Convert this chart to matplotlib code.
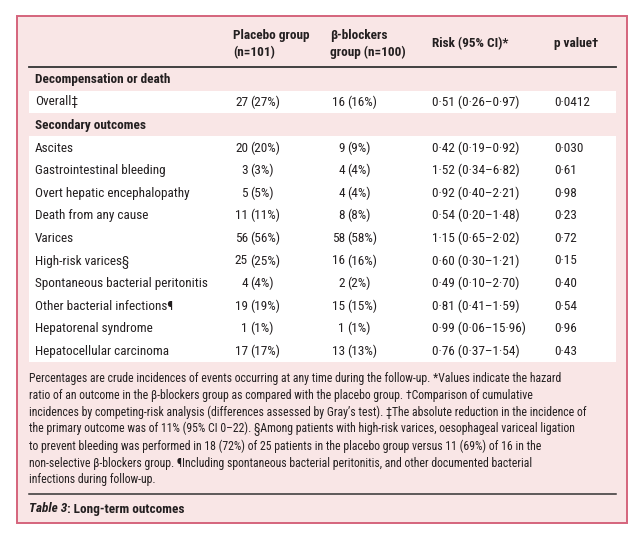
import matplotlib.pyplot as plt
from matplotlib import font_manager as fm
from matplotlib.patches import Rectangle

# table content
header_cols = ["Placebo group\n(n=101)", "β-blockers\ngroup (n=100)", "Risk (95% CI)*", "p value†"]

section1 = "Decompensation or death"
overall_label = "Overall‡"
overall_placebo = ("27", "(27%)")
overall_bb = ("16", "(16%)")
overall_risk = "0·51 (0·26–0·97)"
overall_p = "0·0412"

section2 = "Secondary outcomes"
outcomes = ["Ascites", "Gastrointestinal bleeding", "Overt hepatic encephalopathy",
            "Death from any cause", "Varices", "High-risk varices§",
            "Spontaneous bacterial peritonitis", "Other bacterial infections¶",
            "Hepatorenal syndrome", "Hepatocellular carcinoma"]
placebo_n = ["20", "3", "5", "11", "56", "25", "4", "19", "1", "17"]
placebo_pct = ["(20%)", "(3%)", "(5%)", "(11%)", "(56%)", "(25%)", "(4%)", "(19%)", "(1%)", "(17%)"]
bb_n = ["9", "4", "4", "8", "58", "16", "2", "15", "1", "13"]
bb_pct = ["(9%)", "(4%)", "(4%)", "(8%)", "(58%)", "(16%)", "(2%)", "(15%)", "(1%)", "(13%)"]
risk = ["0·42 (0·19–0·92)", "1·52 (0·34–6·82)", "0·92 (0·40–2·21)", "0·54 (0·20–1·48)",
        "1·15 (0·65–2·02)", "0·60 (0·30–1·21)", "0·49 (0·10–2·70)", "0·81 (0·41–1·59)",
        "0·99 (0·06–15·96)", "0·76 (0·37–1·54)"]
pvals = ["0·030", "0·61", "0·98", "0·23", "0·72", "0·15", "0·40", "0·54", "0·96", "0·43"]

footnote = [
    "Percentages are crude incidences of events occurring at any time during the follow-up. *Values indicate the hazard",
    "ratio of an outcome in the β-blockers group as compared with the placebo group. †Comparison of cumulative",
    "incidences by competing-risk analysis (differences assessed by Gray’s test). ‡The absolute reduction in the incidence of",
    "the primary outcome was of 11% (95% CI 0–22). §Among patients with high-risk varices, oesophageal variceal ligation",
    "to prevent bleeding was performed in 18 (72%) of 25 patients in the placebo group versus 11 (69%) of 16 in the",
    "non-selective β-blockers group. ¶Including spontaneous bacterial peritonitis, and other documented bacterial",
    "infections during follow-up.",
]
caption_a = "Table 3"
caption_b = ": Long-term outcomes"

# pick a narrow face if there is one
family, stretch = 'DejaVu Sans', 'normal'
entries = fm.fontManager.ttflist
names = {f.name for f in entries}
for cand in ['Liberation Sans Narrow', 'Roboto Condensed', 'Open Sans Condensed', 'Noto Sans Condensed']:
    if cand in names:
        family = cand
        break
else:
    if any(f.name == 'DejaVu Sans' and f.stretch in ('condensed', 'semi-condensed') for f in entries):
        family, stretch = 'DejaVu Sans', 'condensed'
    elif 'Lato' in names:
        family = 'Lato'
    elif 'Roboto' in names:
        family = 'Roboto'

plt.rcParams['font.family'] = [family, 'DejaVu Sans']
plt.rcParams['font.stretch'] = stretch

PINK = "#f9e6e6"
BORDER = "#d5647c"
TXT = "#231f20"

fig = plt.figure(figsize=(6.44, 5.37), dpi=100)
ax = fig.add_axes([0, 0, 1, 1])
ax.set_xlim(0, 644)
ax.set_ylim(537, 0)
ax.axis('off')
renderer = fig.canvas.get_renderer()


def fit(s, target, **kw):
    # font size that makes s about target px wide
    t = ax.text(0, 0, s, fontsize=10, **kw)
    w = t.get_window_extent(renderer).width
    t.remove()
    return 10 * target / w


fs = min(fit("Gastrointestinal bleeding", 133), 9.5)
fsb = min(fit(section1, 145, fontweight='bold'), 9.5)
fsf = min(fit(footnote[2], 582), 8.5)
fsc = min(fit(caption_a + caption_b, 162, fontweight='bold'), 9.5)

ax.add_patch(Rectangle((17, 16), 610, 507, facecolor=PINK, edgecolor=BORDER, lw=1.4))

# white bands
ax.add_patch(Rectangle((29, 91), 587, 22, facecolor='white', edgecolor='none'))
ax.add_patch(Rectangle((29, 136), 587, 226, facecolor='white', edgecolor='none'))

# header
xs = [233, 330, 432, 554]
for x, h in zip(xs, header_cols):
    ax.text(x, 44, h, ha='left', va='center', fontsize=fsb, fontweight='bold',
            color=TXT, linespacing=1.4)
ax.plot([29, 616], [66.5, 66.5], color='#333333', lw=1.3)

x0 = 35
px, bx = 250, 347


def row(y, label, pn, bn, r, p):
    ax.text(x0, y, label, ha='left', va='center', fontsize=fs, color=TXT)
    ax.text(px - 2, y, pn[0], ha='right', va='center', fontsize=fs, color=TXT)
    ax.text(px, y, pn[1], ha='left', va='center', fontsize=fs, color=TXT)
    ax.text(bx - 2, y, bn[0], ha='right', va='center', fontsize=fs, color=TXT)
    ax.text(bx, y, bn[1], ha='left', va='center', fontsize=fs, color=TXT)
    ax.text(xs[2], y, r, ha='left', va='center', fontsize=fs, color=TXT)
    ax.text(xs[3], y, p, ha='left', va='center', fontsize=fs, color=TXT)


ax.text(x0, 79, section1, ha='left', va='center', fontsize=fsb, fontweight='bold', color=TXT)
row(102, overall_label, overall_placebo, overall_bb, overall_risk, overall_p)
ax.text(x0, 125, section2, ha='left', va='center', fontsize=fsb, fontweight='bold', color=TXT)

for i, lab in enumerate(outcomes):
    y = 148 + i * 22.6
    row(y, lab, (placebo_n[i], placebo_pct[i]), (bb_n[i], bb_pct[i]), risk[i], pvals[i])

for i, line in enumerate(footnote):
    ax.text(29, 378.5 + i * 16.9, line, ha='left', va='center', fontsize=fsf, color=TXT)

ax.plot([29, 616], [494, 494], color='#333333', lw=1.1)
t = ax.text(29, 509, caption_a, ha='left', va='center', fontsize=fsc,
            fontweight='bold', fontstyle='italic', color=TXT)
bb = t.get_window_extent(renderer)
x_end = ax.transData.inverted().transform((bb.x1, bb.y0))[0]
ax.text(x_end, 509, caption_b, ha='left', va='center', fontsize=fsc,
        fontweight='bold', color=TXT)

fig.savefig("out.png", dpi=100, facecolor='white')
